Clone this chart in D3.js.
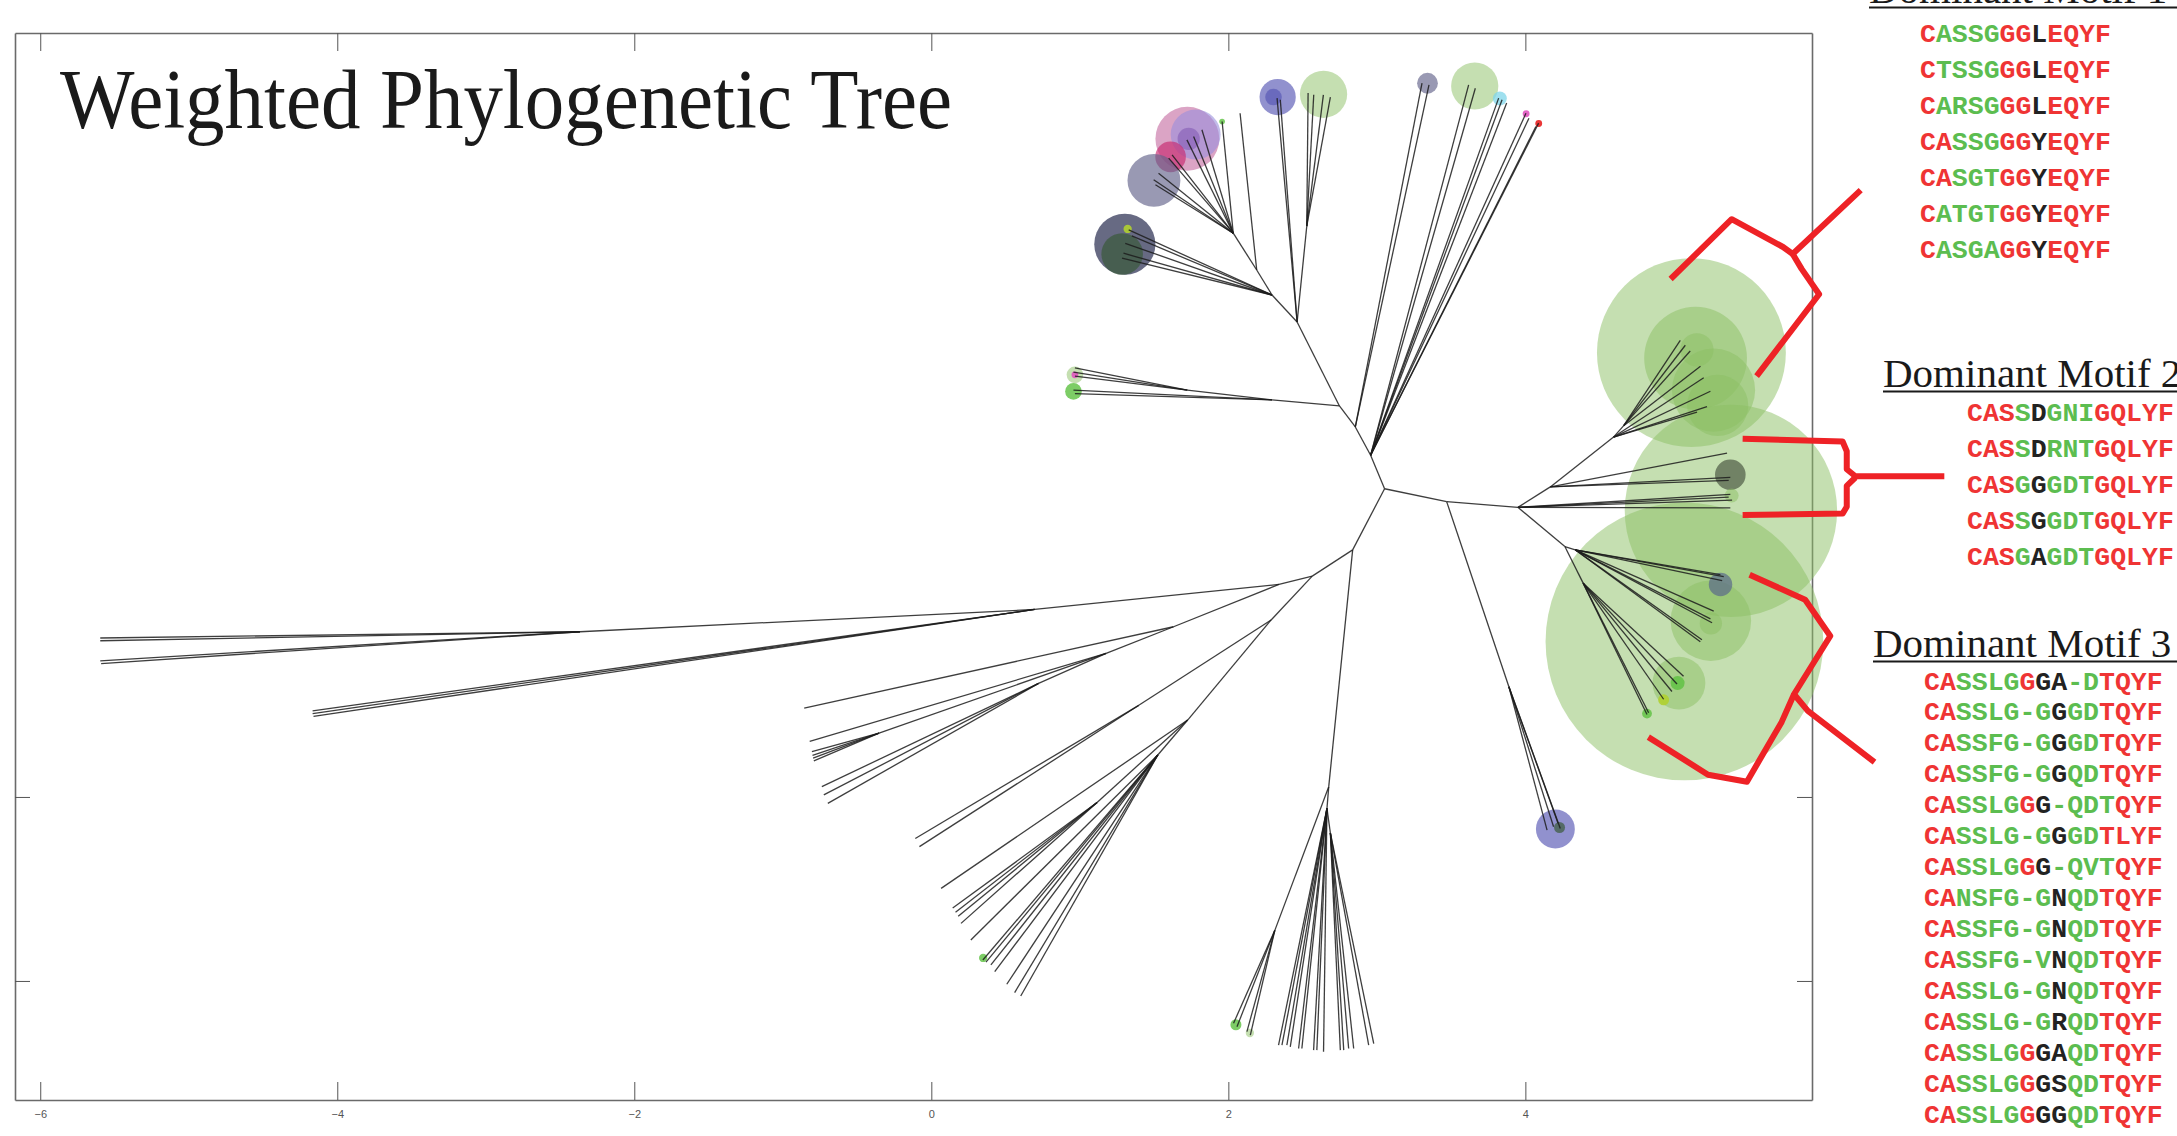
<!DOCTYPE html>
<html>
<head>
<meta charset="utf-8">
<script src="https://cdn.jsdelivr.net/npm/d3@7"></script>
<style>
  body { margin: 0; background: #fff; }
  svg { display: block; }
</style>
</head>
<body>
<div id="chart"></div>
<script>
// ---- data ----
const xTicks = [-6, -4, -2, 0, 2, 4];
const yTicks = [-3, -2];

// internal nodes: [id, parent, x, y]
const treeNodes = [
  ["R", null, 3.052, -0.325],
  ["N1", "R", 2.958, -0.143],
  ["N2b", "N1", 2.855, 0.011],
  ["N2", "N2b", 2.748, 0.125],
  ["N3", "N2", 2.463, 0.581],
  ["N4", "N3", 2.294, 0.728],
  ["N5", "N4", 2.191, 0.864],
  ["N6", "N5", 2.033, 1.064],
  ["N7", "N3", 2.528, 1.102],
  ["NL", "N2", 2.294, 0.158],
  ["NL2", "NL", 1.724, 0.211],
  ["L1", "R", 2.837, -0.657],
  ["L2", "L1", 2.565, -0.8],
  ["L3", "L2", 2.341, -0.845],
  ["L5", "L3", 0.696, -0.981],
  ["L6", "L5", -2.366, -1.102],
  ["L7", "L3", 1.631, -1.075],
  ["L8", "L7", 1.177, -1.22],
  ["L8b", "L8", -0.352, -1.653],
  ["L9", "L8", 0.722, -1.383],
  ["M1", "L2", 2.288, -1.038],
  ["M2", "M1", 1.397, -1.502],
  ["M3", "M1", 1.726, -1.582],
  ["M4", "M3", 1.525, -1.772],
  ["M5", "M3", 1.116, -2.03],
  ["B1", "L1", 2.676, -1.944],
  ["B2", "B1", 2.664, -2.062],
  ["B3", "B1", 2.313, -2.725],
  ["B4", "B2", 2.687, -2.196],
  ["C1", "R", 3.47, -0.395],
  ["C2", "C1", 3.95, -0.426],
  ["C3", "C2", 4.168, -0.315],
  ["C4", "C3", 4.594, -0.044],
  ["C4b", "C4", 4.662, 0.018],
  ["C5", "C2", 4.266, -0.639],
  ["C6", "C5", 4.336, -0.657],
  ["C8", "C5", 4.389, -0.838],
  ["C9", "C1", 3.889, -1.401]
];

// tips: [parent, x, y]
const treeTips = [
  ["N4", 1.329, 1.082], ["N4", 1.35, 1.049], ["N4", 1.306, 1.009], ["N4", 1.294, 0.955], ["N4", 1.284, 0.928],
  ["N6", 1.53, 1.39], ["N6", 1.497, 1.354], ["N6", 1.509, 1.327],
  ["N6", 1.598, 1.472], ["N6", 1.621, 1.49],
  ["N6", 1.822, 1.626], ["N6", 1.766, 1.589], ["N6", 1.721, 1.571],
  ["N6", 1.958, 1.671], ["N5", 2.079, 1.716],
  ["N3", 2.328, 1.798], ["N3", 2.35, 1.789],
  ["N7", 2.537, 1.826], ["N7", 2.575, 1.816], ["N7", 2.64, 1.816], ["N7", 2.687, 1.804],
  ["N2b", 3.304, 1.879], ["N2b", 3.351, 1.87],
  ["N1", 3.618, 1.87], ["N1", 3.663, 1.852],
  ["N1", 3.82, 1.798], ["N1", 3.843, 1.789], ["N1", 3.874, 1.771],
  ["N1", 4.004, 1.716], ["N1", 4.024, 1.689], ["N1", 4.071, 1.644], ["N1", 4.089, 1.662],
  ["NL2", 0.967, 0.332], ["NL2", 0.957, 0.309], ["NL2", 0.967, 0.287],
  ["NL", 0.957, 0.211], ["NL", 0.967, 0.192],
  ["L6", -5.596, -1.136], ["L6", -5.596, -1.151], ["L6", -5.596, -1.26], ["L6", -5.59, -1.275],
  ["L5", -4.166, -1.532], ["L5", -4.166, -1.547], ["L5", -4.16, -1.562],
  ["L7", -0.856, -1.517],
  ["L8", -0.819, -1.698],
  ["L8b", -0.804, -1.754], ["L8b", -0.8, -1.774], ["L8b", -0.796, -1.789], ["L8b", -0.791, -1.804],
  ["L9", -0.737, -1.944], ["L9", -0.724, -1.989], ["L9", -0.697, -2.035],
  ["M2", -0.108, -2.226], ["M2", -0.08, -2.27],
  ["M3", 0.066, -2.497],
  ["M5", 0.144, -2.604], ["M5", 0.163, -2.626], ["M5", 0.181, -2.649], ["M5", 0.2, -2.687],
  ["M4", 0.266, -2.777], ["M4", 0.347, -2.886], ["M4", 0.368, -2.898], ["M4", 0.401, -2.913],
  ["M4", 0.427, -2.949], ["M4", 0.508, -3.018], ["M4", 0.561, -3.063], ["M4", 0.602, -3.082],
  ["B3", 2.035, -3.23], ["B3", 2.058, -3.249], ["B3", 2.125, -3.275], ["B3", 2.148, -3.294],
  ["B2", 2.338, -3.349], ["B2", 2.361, -3.349], ["B2", 2.394, -3.349], ["B2", 2.417, -3.358],
  ["B2", 2.473, -3.367], ["B2", 2.495, -3.367], ["B2", 2.574, -3.376], ["B2", 2.596, -3.376], ["B2", 2.641, -3.385],
  ["B4", 2.754, -3.376], ["B4", 2.777, -3.376], ["B4", 2.81, -3.367], ["B4", 2.844, -3.367], ["B4", 2.945, -3.349], ["B4", 2.979, -3.34],
  ["C9", 4.146, -2.18], ["C9", 4.19, -2.162], ["C9", 4.22, -2.143], ["C9", 4.235, -2.171],
  ["C4b", 5.043, 0.482], ["C4b", 5.077, 0.455], ["C4b", 5.11, 0.424], ["C4b", 5.179, 0.341],
  ["C4", 5.201, 0.278], ["C4", 5.246, 0.205], ["C4", 5.223, 0.122], ["C4", 5.156, 0.091],
  ["C3", 5.358, -0.131], ["C3", 5.38, -0.263], ["C3", 5.369, -0.279],
  ["C2", 5.38, -0.356], ["C2", 5.369, -0.371], ["C2", 5.392, -0.387], ["C2", 5.38, -0.429],
  ["C6", 5.313, -0.792], ["C6", 5.336, -0.803], ["C6", 5.325, -0.824], ["C6", 5.268, -0.99],
  ["C6", 5.257, -1.053], ["C6", 5.246, -1.032], ["C6", 5.189, -1.146], ["C6", 5.178, -1.157],
  ["C8", 5.065, -1.344], ["C8", 5.021, -1.386], ["C8", 4.987, -1.427], ["C8", 4.931, -1.469], ["C8", 4.83, -1.542], ["C8", 4.819, -1.552]
];

// weight circles: [x, y, radius (tree units), kind]
const weightCircles = [
  [5.118, 0.415, 0.636, "green"], [5.146, 0.385, 0.346, "green"], [5.267, 0.211, 0.28, "green"],
  [5.295, 0.128, 0.206, "green"], [5.155, 0.43, 0.112, "green"],
  [5.384, -0.445, 0.715, "green"], [5.38, -0.249, 0.103, "olive"], [5.389, -0.362, 0.047, "green"],
  [5.071, -1.155, 0.935, "green"], [5.249, -1.042, 0.271, "green"], [5.314, -0.845, 0.079, "slate"],
  [5.249, -1.057, 0.075, "green"], [5.034, -1.381, 0.178, "green"], [5.025, -1.381, 0.047, "bright"],
  [4.931, -1.472, 0.037, "lime"], [4.819, -1.547, 0.033, "bright"],
  [4.202, -2.174, 0.131, "blue"], [4.23, -2.166, 0.037, "darkgreen"],
  [3.341, 1.879, 0.07, "grey"], [3.659, 1.864, 0.159, "green"], [3.828, 1.796, 0.047, "cyan"],
  [4.005, 1.713, 0.023, "pink"], [4.09, 1.66, 0.023, "red"],
  [2.332, 1.804, 0.122, "blue"], [2.304, 1.804, 0.056, "blue"], [2.641, 1.819, 0.159, "green"],
  [1.724, 1.577, 0.215, "magenta"], [1.78, 1.6, 0.168, "lavender"], [1.733, 1.577, 0.075, "purple"],
  [1.611, 1.479, 0.103, "crimson"], [1.499, 1.351, 0.178, "grey"],
  [1.303, 1.004, 0.206, "navy"], [1.285, 0.951, 0.14, "darkgreen"], [1.322, 1.087, 0.028, "lime"],
  [0.967, 0.294, 0.056, "green"], [0.967, 0.294, 0.023, "pink"], [0.957, 0.204, 0.056, "bright"],
  [2.051, -3.238, 0.037, "bright"], [2.145, -3.283, 0.028, "green"], [0.349, -2.875, 0.028, "bright"],
  [1.958, 1.671, 0.019, "bright"]
];

// red curly brackets (tree units)
const braces = [
  [[4.978, 0.815], [5.389, 1.14], [5.735, 0.989], [5.8, 0.951], [6.258, 1.298]],
  [[5.8, 0.951], [5.86, 0.87], [5.978, 0.732], [5.557, 0.287]],
  [[5.463, -0.053], [6.136, -0.068], [6.164, -0.121], [6.164, -0.219], [6.222, -0.257], [6.821, -0.257]],
  [[6.222, -0.264], [6.164, -0.309], [6.164, -0.423], [6.136, -0.46], [5.463, -0.468]],
  [[5.51, -0.792], [5.884, -0.928], [6.053, -1.125], [5.809, -1.442], [5.902, -1.532], [6.351, -1.811]],
  [[5.809, -1.442], [5.726, -1.592], [5.492, -1.917], [5.23, -1.879], [4.828, -1.675]]
];

const motif1 = ["CASSGGGLEQYF", "CTSSGGGLEQYF", "CARSGGGLEQYF", "CASSGGGYEQYF", "CASGTGGYEQYF", "CATGTGGYEQYF", "CASGAGGYEQYF"];
const motif1Colors = ["rggggrrkrrrr", "rggggrrkrrrr", "rggggrrkrrrr", "rrgggrrkrrrr", "rrgggrrkrrrr", "rggggrrkrrrr", "rggggrrkrrrr"];
const motif2 = ["CASSDGNIGQLYF", "CASSDRNTGQLYF", "CASGGGDTGQLYF", "CASSGGDTGQLYF", "CASGAGDTGQLYF"];
const motif2Colors = ["rrrgkgggrrrrr", "rrrgkgggrrrrr", "rrrgkgggrrrrr", "rrrgkgggrrrrr", "rrrgkgggrrrrr"];
const motif3 = ["CASSLGGGA-DTQYF", "CASSLG-GGGDTQYF", "CASSFG-GGGDTQYF", "CASSFG-GGQDTQYF", "CASSLGGG-QDTQYF",
  "CASSLG-GGGDTLYF", "CASSLGGG-QVTQYF", "CANSFG-GNQDTQYF", "CASSFG-GNQDTQYF", "CASSFG-VNQDTQYF",
  "CASSLG-GNQDTQYF", "CASSLG-GRQDTQYF", "CASSLGGGAQDTQYF", "CASSLGGGSQDTQYF", "CASSLGGGGQDTQYF"];
const motif3Colors = ["rrggggrkkggrrrr", "rrggggggkggrrrr", "rrggggggkggrrrr", "rrggggggkggrrrr", "rrggggrkggggrrr",
  "rrggggggkggrrrr", "rrggggrkggggrrr", "rrggggggkggrrrr", "rrggggggkggrrrr", "rrggggggkggrrrr",
  "rrggggggkggrrrr", "rrggggggkggrrrr", "rrggggrkkggrrrr", "rrggggrkkggrrrr", "rrggggrkkggrrrr"];
const motifTitles = ["Dominant Motif 1", "Dominant Motif 2", "Dominant Motif 3"];

// ---- layout ----
const width = 2177, height = 1136;
const box = { left: 15, right: 1812, top: 33, bottom: 1100 };

const letterColor = { r: "#ef3434", g: "#5cbd50", k: "#222" };
const circleStyle = {
  green: ["#8cc063", 0.5], olive: ["#4d5a44", 0.7], slate: ["#5a6a8a", 0.7],
  bright: ["#5cc040", 0.8], lime: ["#b0d030", 0.9], blue: ["#5656b4", 0.65],
  darkgreen: ["#3b5a3a", 0.7], grey: ["#63638a", 0.65], cyan: ["#7fd6ea", 0.75],
  pink: ["#e055c0", 0.9], red: ["#e82020", 0.9], magenta: ["#b84a8c", 0.5],
  crimson: ["#c8286e", 0.65], lavender: ["#9a90dc", 0.6], purple: ["#7a50b0", 0.5],
  navy: ["#34385a", 0.75]
};

const svg = d3.select("#chart").append("svg")
  .attr("width", width)
  .attr("height", height);

const x = d3.scaleLinear().domain([-6.17, 5.93]).range([box.left, box.right]);
const y = d3.scaleLinear().domain([2.152, -3.647]).range([box.top, box.bottom]);
const rpx = (r) => x(r) - x(0);

// axes, MATLAB style box with inward ticks
const axisStyle = (g) => {
  g.select(".domain").attr("stroke", "#6a6a6a").attr("stroke-width", 1.6);
  g.selectAll(".tick line").attr("stroke", "#555").attr("stroke-width", 1);
};
svg.append("g")
  .attr("transform", `translate(0,${box.bottom})`)
  .call(d3.axisBottom(x).tickValues(xTicks).tickSize(-18).tickSizeOuter(0).tickPadding(10))
  .call(axisStyle)
  .call(g => g.selectAll(".tick text")
    .attr("font-family", "'Liberation Sans Narrow', 'Liberation Sans', sans-serif")
    .attr("font-size", 11).attr("fill", "#555"));
svg.append("g")
  .attr("transform", `translate(0,${box.top})`)
  .call(d3.axisTop(x).tickValues(xTicks).tickSize(-18).tickSizeOuter(0).tickFormat(""))
  .call(axisStyle);
svg.append("g")
  .attr("transform", `translate(${box.left},0)`)
  .call(d3.axisLeft(y).tickValues(yTicks).tickSize(-15).tickSizeOuter(0).tickFormat(""))
  .call(axisStyle);
svg.append("g")
  .attr("transform", `translate(${box.right},0)`)
  .call(d3.axisRight(y).tickValues(yTicks).tickSize(-15).tickSizeOuter(0).tickFormat(""))
  .call(axisStyle);

// weight circles
svg.append("g").selectAll("circle")
  .data(weightCircles)
  .join("circle")
  .attr("cx", d => x(d[0]))
  .attr("cy", d => y(d[1]))
  .attr("r", d => rpx(d[2]))
  .attr("fill", d => circleStyle[d[3]][0])
  .attr("fill-opacity", d => circleStyle[d[3]][1]);

// tree branches
const nodePos = new Map(treeNodes.map(d => [d[0], [d[2], d[3]]]));
const branches = treeNodes.filter(d => d[1]).map(d => [nodePos.get(d[1]), [d[2], d[3]]])
  .concat(treeTips.map(d => [nodePos.get(d[0]), [d[1], d[2]]]));

svg.append("g").selectAll("line")
  .data(branches)
  .join("line")
  .attr("x1", d => x(d[0][0]))
  .attr("y1", d => y(d[0][1]))
  .attr("x2", d => x(d[1][0]))
  .attr("y2", d => y(d[1][1]))
  .attr("stroke", "#1c1c1c")
  .attr("stroke-opacity", 0.85)
  .attr("stroke-width", 1.3);

// title
svg.append("text")
  .attr("x", 60)
  .attr("y", 128)
  .attr("font-family", "'Liberation Serif', 'DejaVu Serif', serif")
  .attr("font-size", 84)
  .attr("fill", "#1a1a1a")
  .attr("textLength", 892)
  .attr("lengthAdjust", "spacingAndGlyphs")
  .text("Weighted Phylogenetic Tree");

// red brackets
const braceLine = d3.line().x(d => x(d[0])).y(d => y(d[1]));
svg.append("g").selectAll("path")
  .data(braces)
  .join("path")
  .attr("d", braceLine)
  .attr("fill", "none")
  .attr("stroke", "#ee2226")
  .attr("stroke-width", 6)
  .attr("stroke-linejoin", "round")
  .attr("stroke-linecap", "butt");

// motif panels
const panels = [
  { title: motifTitles[0], tx: 1869, ty: 3, seqs: motif1, cols: motif1Colors, sx: 1920, sy: 41.5 },
  { title: motifTitles[1], tx: 1883, ty: 387, seqs: motif2, cols: motif2Colors, sx: 1967, sy: 420.5 },
  { title: motifTitles[2], tx: 1873, ty: 657, seqs: motif3, cols: motif3Colors, sx: 1924, sy: 689.5, step: 30.96 }
];

panels.forEach(p => {
  const g = svg.append("g");
  g.append("text")
    .attr("x", p.tx)
    .attr("y", p.ty)
    .attr("font-family", "'Liberation Serif', serif")
    .attr("font-size", 41)
    .attr("fill", "#1a1a1a")
    .text(p.title);
  g.append("line")
    .attr("x1", p.tx).attr("x2", width)
    .attr("y1", p.ty + 4.5).attr("y2", p.ty + 4.5)
    .attr("stroke", "#1a1a1a").attr("stroke-width", 2.2);

  const step = p.step || 36.1;
  g.selectAll("text.seq")
    .data(p.seqs)
    .join("text")
    .attr("class", "seq")
    .attr("x", p.sx)
    .attr("y", (d, i) => p.sy + i * step)
    .attr("font-family", "'Liberation Mono', 'DejaVu Sans Mono', monospace")
    .attr("font-weight", "bold")
    .attr("font-size", 26.5)
    .each(function (d, i) {
      d3.select(this).selectAll("tspan")
        .data(d.split(""))
        .join("tspan")
        .attr("fill", (c, j) => letterColor[p.cols[i][j]] || "#ef3434")
        .text(c => c);
    });
});
</script>
</body>
</html>
